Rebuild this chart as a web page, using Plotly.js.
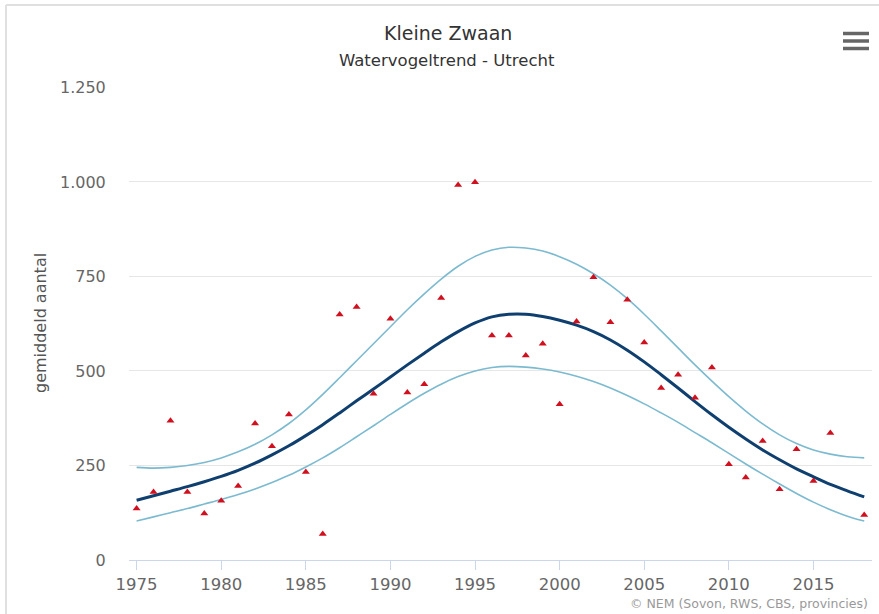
<!DOCTYPE html>
<html>
<head>
<meta charset="utf-8">
<script src="https://cdn.plot.ly/plotly-3.0.1.min.js"></script>
<style>
  html, body { margin: 0; padding: 0; background: #fff; }
  #chart { width: 879px; height: 614px; }
</style>
</head>
<body>
<div id="chart"></div>
<script>
// ---- data ----
const years = [1975,1976,1977,1978,1979,1980,1981,1982,1983,1984,1985,1986,1987,1988,1989,
  1990,1991,1992,1993,1994,1995,1996,1997,1998,1999,2000,2001,2002,2003,2004,
  2005,2006,2007,2008,2009,2010,2011,2012,2013,2014,2015,2016,2017,2018];

const observed = [136,180,368,180,123,157,196,361,301,385,233,69,649,669,440,
  638,443,465,693,992,999,594,594,541,572,412,631,748,629,688,
  575,455,490,429,509,253,218,315,187,293,209,336,null,119];

const trend = [158,170,182,194,207,221,237,256,278,302,329,358,389,421,452,
  484,516,547,577,604,627,643,650,650,644,634,621,604,582,555,
  524,490,455,419,384,351,320,291,265,241,220,200,183,167];

const upper = [245,243,245,250,258,270,286,306,331,361,397,438,482,527,572,
  617,662,704,743,777,803,820,827,825,817,802,782,757,727,691,
  650,606,561,516,473,432,394,360,331,308,291,280,273,270];

const lower = [103,114,125,136,148,160,173,188,205,224,246,270,297,326,355,
  385,414,441,465,485,500,509,512,510,505,497,486,472,455,435,
  413,389,364,337,310,282,254,227,201,176,153,133,116,103];

const xTicks = [1975,1980,1985,1990,1995,2000,2005,2010,2015];
const yTicks = [0,250,500,750,1000,1250];

const titleText = "Kleine Zwaan";
const subtitleText = "Watervogeltrend - Utrecht";
const yTitleText = "gemiddeld aantal";
const creditText = "© NEM (Sovon, RWS, CBS, provincies)";

// ---- layout helpers (pixel -> paper) ----
const W = 879, H = 614;
const M = { l: 129, r: 7, t: 87, b: 54 };
const pw = W - M.l - M.r, ph = H - M.t - M.b;
const px = x => (x - M.l) / pw;
const py = y => (H - M.b - y) / ph;

const FONT = "DejaVu Sans, sans-serif";
const ciColor = "#7cbad0";
const trendColor = "#0f3f6e";

const traces = [
  { x: years, y: upper, type: "scatter", mode: "lines",
    line: { color: ciColor, width: 1.6, shape: "spline", smoothing: 1 }, hoverinfo: "skip" },
  { x: years, y: lower, type: "scatter", mode: "lines",
    line: { color: ciColor, width: 1.6, shape: "spline", smoothing: 1 }, hoverinfo: "skip" },
  { x: years, y: trend, type: "scatter", mode: "lines",
    line: { color: trendColor, width: 3, shape: "spline", smoothing: 1 } },
  { x: years, y: observed, type: "scatter", mode: "markers",
    marker: { symbol: "triangle-up", size: 7, color: "#d0101f" } }
];

const menuLines = [33.5, 41, 48.5].map(y => ({
  type: "line", xref: "paper", yref: "paper",
  x0: px(843), x1: px(869), y0: py(y), y1: py(y),
  line: { color: "#666", width: 3.5 }
}));

const layout = {
  width: W, height: H,
  margin: M,
  paper_bgcolor: "#fff", plot_bgcolor: "#fff",
  showlegend: false,
  separators: ",.",
  font: { family: FONT, color: "#666" },
  xaxis: {
    range: [1974.55, 2018.46],
    tickvals: xTicks,
    ticktext: xTicks.map(String),
    showgrid: false, zeroline: false,
    showline: true, linecolor: "#ccd6eb", linewidth: 1,
    ticks: "outside", ticklen: 9, tickcolor: "#ccd6eb", tickwidth: 1,
    tickfont: { family: FONT, size: 16.5, color: "#666" }
  },
  yaxis: {
    range: [0, 1251],
    tickvals: yTicks,
    tickformat: ",d",
    showgrid: true, gridcolor: "#e6e6e6", gridwidth: 1,
    zeroline: false, showline: false,
    ticks: "outside", ticklen: 19, tickcolor: "rgba(0,0,0,0)",
    tickfont: { family: FONT, size: 16, color: "#666" }
  },
  annotations: [
    { text: titleText, xref: "paper", yref: "paper", x: px(448), y: py(33),
      xanchor: "center", yanchor: "middle", showarrow: false,
      font: { family: FONT, size: 19, color: "#333" } },
    { text: subtitleText, xref: "paper", yref: "paper", x: px(447), y: py(60),
      xanchor: "center", yanchor: "middle", showarrow: false,
      font: { family: FONT, size: 16.5, color: "#333" } },
    { text: yTitleText, xref: "paper", yref: "paper", x: px(40), y: py(323),
      xanchor: "center", yanchor: "middle", showarrow: false, textangle: -90,
      font: { family: FONT, size: 16, color: "#555" } },
    { text: creditText, xref: "paper", yref: "paper", x: px(870), y: py(603),
      xanchor: "right", yanchor: "middle", showarrow: false,
      font: { family: FONT, size: 12.5, color: "#999" } }
  ],
  shapes: [
    { type: "line", xref: "paper", yref: "paper", x0: px(6), x1: px(6), y0: py(5), y1: py(614),
      line: { color: "#e0e0e0", width: 2 } },
    { type: "line", xref: "paper", yref: "paper", x0: px(6), x1: px(879), y0: py(5), y1: py(5),
      line: { color: "#e0e0e0", width: 2 } }
  ].concat(menuLines)
};

Plotly.newPlot("chart", traces, layout, { staticPlot: true, displayModeBar: false });
</script>
</body>
</html>
